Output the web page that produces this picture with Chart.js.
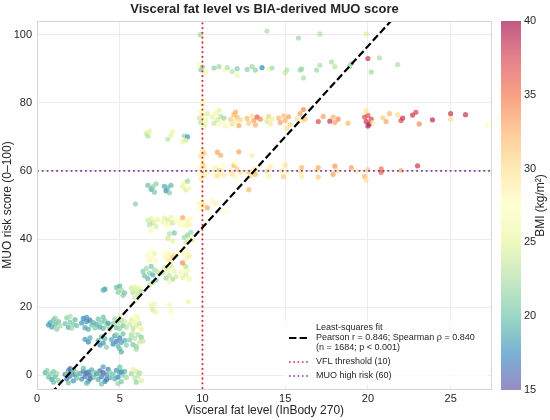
<!DOCTYPE html>
<html>
<head>
<meta charset="utf-8">
<script src="https://cdn.jsdelivr.net/npm/chart.js@4.4.1/dist/chart.umd.min.js"></script>
<style>
html, body { margin: 0; padding: 0; background: #fff; }
</style>
</head>
<body>
<canvas id="chart" width="550" height="420"></canvas>
<script>
// Points: [visceral fat level, MUO score, BMI]
const ROW_0 = [
  [0.5,0.8,19],[0.7,-0.5,20],[0.8,0.4,21],[0.9,-1.2,18.5],[1.0,1.1,20.5],[1.1,-0.3,19.5],[1.2,0.6,22],[1.3,-1.5,21],[1.0,-2.0,20],[0.6,1.5,21.5],
  [1.7,0.3,17],[1.8,-1.0,16],[1.9,1.4,18],[2.0,-0.2,17.5],[2.1,0.9,19],[2.2,-1.6,18],[2.3,0.2,16.5],[2.4,-0.8,20],[2.0,2.0,15.8],[1.8,0.5,21],[2.2,1.7,19.5],[2.4,0.8,22],[1.9,-2.2,20],
  [2.6,0.5,19],[2.7,-1.1,18],[2.8,1.2,17],[2.9,-0.3,16.5],[3.0,0.7,15.5],[3.1,-1.7,18.5],[3.2,0.1,17],[3.3,1.6,19],[3.4,-0.6,20],[3.5,0.9,21],[3.0,-2.3,19.5],[2.8,2.1,20],[3.2,-1.0,16],[3.1,1.0,18],
  [3.6,0.4,18],[3.7,-1.2,19],[3.8,1.3,16],[3.9,-0.4,17],[4.0,0.8,15.5],[4.1,-1.8,17.5],[4.2,0.2,18],[4.3,1.8,17],[4.4,-0.7,19],[4.0,2.5,18.5],[3.9,-2.5,20],[4.2,-1.2,16.5],[4.4,0.9,21],[3.7,0.6,20],
  [4.6,0.3,20],[4.7,-1.0,19],[4.8,1.5,18],[4.9,-0.5,17.5],[5.0,0.8,19],[5.1,-1.8,20.5],[5.2,0.1,21],[5.3,1.2,19.5],[5.4,-0.6,22],[5.0,2.4,20],[4.9,-2.4,21.5],[5.1,1.0,18],
  [5.7,0.5,22],[5.9,-0.8,23],[6.0,1.2,24],[6.1,-0.2,23.5],[6.2,0.7,22.5],[6.3,-1.5,24.5],[5.8,1.8,25],[6.0,-2.0,21.5]
];
const ROW_10 = [
  [2.9,10.6,18],[3.1,9.8,17],[3.2,11.0,19],
  [3.7,10.2,19],[3.8,8.9,17.5],[3.9,11.3,20],[4.0,9.5,18],[4.1,10.8,19.5],[4.2,8.3,21],
  [4.5,10.5,19],[4.6,9.2,17.5],[4.7,11.6,18],[4.8,10.0,16.5],[4.9,8.6,19.5],[5.0,11.0,17],[5.1,9.7,18.5],[5.2,12.2,20],[5.3,10.3,19],[5.4,8.9,21],[5.0,7.8,20],[4.8,12.0,21.5],[5.1,6.9,19],
  [5.6,10.4,21],[5.7,11.8,22],[5.8,9.0,20.5],[5.9,10.9,23],[6.0,8.5,21.5],[6.1,12.0,22.5],[6.2,9.8,24],[6.3,11.2,21],[6.4,10.1,23.5],[6.0,7.7,22],[5.8,12.6,24]
];
const ROW_15 = [
  [0.8,15.5,19],[0.9,14.2,18.5],[1.0,16.3,20],[1.1,15.0,19.5],[1.2,13.6,21],[1.3,15.8,20],[1.4,14.5,22],[0.7,14.8,18],[1.1,16.8,21.5],
  [1.7,15.2,20],[1.8,16.9,21],[1.9,14.1,19],[2.0,15.6,20.5],[2.1,13.8,22],[2.2,15.0,21],[2.3,16.4,19.5],[2.4,14.6,20],[2.0,17.3,22.5],
  [2.7,15.4,18],[2.8,16.7,17],[2.9,14.0,18.5],[3.0,15.8,17.5],[3.1,13.5,19],[3.2,16.2,16.5],[3.3,14.8,20],[3.4,15.5,19.5],[3.5,13.9,21],[3.0,17.0,18],
  [3.6,15.0,19],[3.7,16.5,20],[3.8,14.2,18.5],[3.9,15.6,21],[4.0,13.8,19.5],[4.1,16.0,20.5],[4.2,14.7,22],[4.3,15.3,18],[4.4,13.6,21.5],[4.0,17.1,20],
  [4.6,15.2,21],[4.7,16.6,22],[4.8,14.0,20],[4.9,15.5,23],[5.0,13.7,21.5],[5.1,16.2,22.5],[5.2,14.6,20.5],[5.3,15.8,24],[5.4,14.1,23],[5.0,17.2,24.5],
  [5.6,15.0,24],[5.7,16.4,25],[5.8,13.9,23],[5.9,15.7,25.5],[6.0,14.5,24.5],[6.1,16.8,26],[6.2,15.2,23.5],[6.3,13.6,25],[6.0,17.5,26.5]
];
const ROW_20_25 = [
  [4.1,25.3,18],[4.0,25.0,19.5],
  [4.8,25.8,20],[4.9,24.4,21],[5.0,26.2,19.5],[5.1,25.0,22],[5.3,24.2,20.5],[5.2,23.5,21],
  [5.7,25.6,24],[5.8,24.3,23],[5.9,26.0,25],[6.0,25.1,24.5],[6.1,23.8,23.5],[6.2,25.7,25.5],[6.3,24.6,22.5],[5.9,22.8,24],
  [6.9,20.5,25],[7.0,19.2,24],[7.1,21.0,26],[7.2,18.6,25.5],[8.0,20.8,26.5],[8.1,18.9,27],[9.15,21.6,25.5]
];
const ROW_30_35 = [
  [6.4,30.5,21],[6.5,29.2,20],[6.6,31.4,22],[6.7,28.4,19.5],[6.8,30.0,21.5],[6.9,32.0,20.5],[7.0,29.5,19],[7.1,31.0,22.5],[7.2,28.0,21],[7.3,30.4,23],[7.0,27.3,22],[6.8,26.5,23.5],[7.4,29.8,24],
  [7.6,30.2,23],[7.7,31.6,24],[7.8,28.6,22],[7.9,30.8,25],[8.0,29.3,23.5],[8.1,32.0,24.5],[8.2,28.2,22.5],[8.3,30.5,25.5],[8.4,29.0,24],[8.0,27.5,26],
  [8.7,30.3,26],[8.8,28.7,25],[8.9,31.2,27],[9.0,29.6,24.5],[9.1,30.8,26.5],[9.2,28.3,25.5],[9.0,32.0,23],
  [6.7,35.3,27],[6.8,33.8,26.5],[6.9,36.5,27.5],[7.0,34.5,28],[7.1,35.8,26],[7.2,33.5,27],
  [7.7,35.0,28],[7.8,36.4,27.5],[7.9,34.0,29],[8.0,35.6,28.5],[8.1,33.6,30],[8.3,35.2,29.5],[8.5,36.0,27],[8.2,34.6,31],
  [8.8,33.0,34],[8.9,35.8,28],[9.0,34.2,28.5],[9.1,36.2,27.5],[9.2,35.0,29]
];
const ROW_40_55 = [
  [7.9,40.2,24],[8.0,41.5,23],[8.2,39.4,25],[8.3,41.8,20.5],
  [8.9,40.5,22],[9.0,39.0,23.5],[9.1,41.2,21.5],[9.2,40.0,24.5],[9.3,42.0,22],[9.4,39.6,25],
  [6.7,45.5,24],[6.8,44.2,23],[6.9,46.0,25],[7.0,44.8,22.5],[7.1,45.2,26],[7.2,43.7,24.5],[7.3,45.8,25.5],[6.9,42.5,26.5],
  [7.6,45.0,26],[7.7,46.2,25],[7.8,44.0,27],[7.9,45.6,24],[8.0,44.5,26.5],[8.1,46.4,25.5],[8.2,44.8,23.5],[8.4,45.3,27.5],
  [8.6,45.6,27],[8.7,44.0,28],[8.8,46.3,33],[8.9,45.0,27.5],[9.0,43.8,26.5],[9.1,45.4,28.5],[9.2,44.3,26],[9.3,46.0,27.5],
  [9.8,50.5,27],[9.9,49.0,28],[10.0,51.0,26.5],[10.1,50.0,29],[10.3,49.2,33],[10.6,51.3,27],[10.8,50.5,28.5],[11.3,48.0,27.5],[5.95,50.3,21],
  [6.7,55.8,20],[6.9,54.6,19],[7.0,55.3,21],[7.1,53.8,20.5],[7.2,56.2,21.5],
  [7.7,55.5,19],[7.8,54.2,17.5],[7.9,55.0,20],[8.0,53.6,21],[8.1,55.8,19.5],
  [8.8,55.4,25],[8.9,56.5,26],[9.0,54.4,24.5],[9.1,57.0,22],[9.2,55.0,26.5],[12.8,54.5,32]
];
const ROW_60_70 = [
  [9.8,60.5,27],[9.9,59.2,28],[10.0,61.2,26.5],[10.1,58.6,29],[10.2,60.0,27.5],[10.0,62.0,28.5],[9.9,57.8,26],[10.1,61.5,30],[10.3,59.5,27],
  [10.6,60.4,27],[10.7,59.0,28],[10.8,61.0,26.5],[10.9,58.5,30],[11.0,60.2,31],[11.1,59.5,28.5],[11.2,61.4,27.5],[11.3,58.8,29],
  [11.7,60.0,29],[11.8,59.0,30],[11.9,61.6,32],[12.0,58.2,28],[12.1,60.5,31],[12.3,59.6,29.5],[12.0,62.5,27.5],
  [12.8,59.7,31],[12.9,58.5,30],[13.1,60.6,29],[13.2,59.0,32],[13.3,61.0,28],
  [13.9,60.0,30],[14.0,58.4,28.5],[14.1,61.2,29],
  [14.8,60.2,29],[14.9,58.3,31],[15.1,59.5,28],[15.0,61.7,30],
  [15.9,59.8,30],[16.0,58.4,29],[16.0,61.0,32],
  [16.9,60.3,29],[17.0,58.2,31],[17.0,61.0,32.5],
  [17.9,59.0,33],[18.0,61.4,33.5],[18.1,60.0,30],
  [19.0,61.0,33],[19.3,60.0,29],[19.8,58.4,32],[19.9,57.2,30],[20.0,60.4,31],
  [20.8,59.6,36],[20.8,60.6,35],[22.0,60.2,32.5],[23.0,61.5,38],
  [9.9,64.5,30],[10.0,66.0,29],[10.1,65.2,31],[10.0,63.3,28.5],[10.9,65.5,33],[11.1,64.6,32.5],[12.2,65.6,33],[13.0,64.5,29],
  [6.6,71.0,24],[6.7,70.2,23],[6.8,71.6,25],[7.9,69.3,23],[8.1,70.5,25],[8.2,71.6,26],[8.8,68.5,25.5],[8.9,70.3,22],[9.1,70.0,18],[9.0,69.0,24]
];
const ROW_75_80 = [
  [9.8,75.5,24],[9.9,74.2,23],[10.0,76.4,25],[10.1,73.5,22.5],[10.2,75.0,26],[10.3,76.8,24.5],[10.0,73.0,27],[9.9,77.5,26.5],[10.2,74.0,28],
  [10.6,75.8,25],[10.7,74.0,23.5],[10.8,76.9,26],[10.9,75.0,24],[11.0,73.6,27],[11.1,76.0,23],[11.2,74.6,28],[11.3,75.5,22],[11.4,73.2,26.5],[11.0,77.8,25],
  [11.7,75.2,31],[11.8,73.8,30],[11.9,76.5,32],[12.0,74.6,29],[12.1,75.8,31.5],[12.2,73.3,33],[12.3,75.0,30.5],[12.0,77.3,32.5],
  [12.7,75.4,32],[12.8,74.0,31],[13.0,76.2,30],[13.1,74.8,33],[13.2,73.5,32.5],[13.3,75.8,36.5],[13.5,75.2,34],
  [13.8,75.6,27],[13.9,74.5,24],[14.0,76.0,31],[14.1,73.8,29.5],[14.2,75.2,25],
  [14.6,75.5,32],[14.7,74.2,33],[14.9,76.2,31.5],[15.0,74.8,32.5],[15.2,75.9,33],[15.3,73.6,31],[15.1,72.5,30],
  [15.7,75.3,30],[15.9,76.8,33],[16.0,74.6,29],[16.2,75.2,31.5],[16.1,78.0,34],
  [17.0,74.5,37],[17.3,76.0,33],[17.7,74.6,38],[17.9,75.8,32.5],[18.0,74.2,33],[18.2,75.2,34],[18.8,74.0,32],
  [19.8,75.8,37],[19.9,74.5,38],[20.0,76.3,36.5],[20.1,73.8,38.5],[20.2,75.2,37.5],[19.9,77.6,30],[20.3,74.2,29],[20.0,73.2,39],
  [20.9,75.6,31],[21.1,74.5,33],[21.3,76.8,32],
  [21.8,76.5,30],[22.0,74.8,37],[22.1,75.5,38],
  [22.7,76.4,38],[22.9,77.2,37.5],[23.1,73.8,34],
  [23.9,75.0,38.5],[25.0,76.8,38],[25.0,75.2,30],[25.9,76.5,38],[27.2,73.5,27.5],
  [10.0,79.6,26],[10.1,80.8,27.5]
];
const ROW_90_100 = [
  [9.75,91.2,27],[9.9,89.7,21],[10.0,90.5,22],[10.2,88.9,26],
  [10.7,90.2,21.5],[11.0,90.6,22],[11.3,89.5,27],[11.5,90.3,22.5],[11.8,89.2,23],[12.1,90.0,21],[12.1,88.0,26],
  [12.7,89.8,21.5],[13.0,90.6,22],[13.2,89.6,21.5],[13.6,90.3,17.5],[14.0,89.8,27],[14.2,90.2,22],
  [15.1,89.7,23],[15.0,88.8,23.5],[15.9,89.6,22],[16.0,89.9,21.5],[16.1,87.3,22.5],[16.9,89.6,22],[17.1,91.0,22.5],
  [17.8,92.0,22.5],[18.0,90.6,23],[18.9,90.8,21.5],[19.0,91.5,22],[20.0,93.0,38],[20.2,89.0,22],[20.7,93.2,22.5],[21.8,91.2,22.5],
  [9.87,100.0,22],[13.9,101.0,22.5],[15.8,99.0,22],[17.1,100.2,22.5],[19.9,100.2,24.5]
];

const FIT_SLOPE = 5.32;
const FIT_INTERCEPT = -9.8;
const VFL_THRESHOLD = 10;
const MUO_HIGH = 60;
const X_TICKS = [0, 5, 10, 15, 20, 25];
const Y_TICKS = [0, 20, 40, 60, 80, 100];
const BMI_TICKS = [15, 20, 25, 30, 35, 40];
const BMI_MIN = 15, BMI_MAX = 40;

const FONT = '"Liberation Sans", Arial, sans-serif';
const TEXT = '#262626';

// Spectral_r
const CMAP = ['#5e4fa2','#3288bd','#66c2a5','#abdda4','#e6f598','#ffffbf','#fee08b','#fdae61','#f46d43','#d53e4f','#9e0142'];
function hexRgb(h) { return [1, 3, 5].map(i => parseInt(h.substr(i, 2), 16)); }
function bmiColor(bmi, alpha) {
  let t = (bmi - BMI_MIN) / (BMI_MAX - BMI_MIN);
  t = Math.max(0, Math.min(1, t));
  const p = t * (CMAP.length - 1);
  const i = Math.min(Math.floor(p), CMAP.length - 2);
  const f = p - i;
  const a = hexRgb(CMAP[i]), b = hexRgb(CMAP[i + 1]);
  const c = a.map((v, k) => Math.round(v + (b[k] - v) * f));
  return `rgba(${c[0]},${c[1]},${c[2]},${alpha})`;
}

const allPoints = [].concat(ROW_0, ROW_10, ROW_15, ROW_20_25, ROW_30_35, ROW_40_55, ROW_60_70, ROW_75_80, ROW_90_100);

// Titre, cadre, barre de couleur et légende
const decorPlugin = {
  id: 'decor',
  afterDraw(chart) {
    const { ctx, chartArea: a } = chart;
    ctx.save();
    // cadre
    ctx.strokeStyle = '#d6d6d6';
    ctx.lineWidth = 1;
    ctx.strokeRect(a.left + 0.5, a.top + 0.5, a.right - a.left - 1, a.bottom - a.top);

    // titre
    ctx.fillStyle = TEXT;
    ctx.font = 'bold 13px ' + FONT;
    ctx.textAlign = 'center';
    ctx.textBaseline = 'middle';
    ctx.fillText('Visceral fat level vs BIA-derived MUO score', (a.left + a.right) / 2, 9);

    // barre de couleur
    const cbL = a.right + 9, cbW = 20, cbT = a.top, cbB = a.bottom + 1;
    const grad = ctx.createLinearGradient(0, cbB, 0, cbT);
    for (let i = 0; i <= 50; i++) {
      grad.addColorStop(i / 50, bmiColor(BMI_MIN + (BMI_MAX - BMI_MIN) * i / 50, 0.65));
    }
    ctx.fillStyle = grad;
    ctx.fillRect(cbL, cbT, cbW, cbB - cbT);
    ctx.fillStyle = TEXT;
    ctx.font = '11px ' + FONT;
    ctx.textAlign = 'left';
    BMI_TICKS.forEach(v => {
      const y = cbB - (v - BMI_MIN) / (BMI_MAX - BMI_MIN) * (cbB - cbT);
      ctx.fillText(String(v), cbL + cbW + 3, y);
    });
    ctx.save();
    ctx.translate(541, (cbT + cbB) / 2);
    ctx.rotate(-Math.PI / 2);
    ctx.textAlign = 'center';
    ctx.font = '12px ' + FONT;
    ctx.fillText('BMI (kg/m²)', 0, 0);
    ctx.restore();

    // légende
    const lx = a.right - 208, ly = a.bottom - 68;
    ctx.fillStyle = 'rgba(255,255,255,0.8)';
    ctx.fillRect(lx, ly, 204, 64);
    ctx.font = '9px ' + FONT;
    ctx.fillStyle = TEXT;
    const hx = lx + 5, tx = lx + 32;
    ctx.setLineDash([7.4, 3.2]);
    ctx.lineWidth = 2;
    ctx.strokeStyle = '#000';
    ctx.beginPath(); ctx.moveTo(hx, ly + 17); ctx.lineTo(hx + 20, ly + 17); ctx.stroke();
    ctx.fillText('Least-squares fit', tx, ly + 7);
    ctx.fillText('Pearson r = 0.846; Spearman \u03c1 = 0.840', tx, ly + 17);
    ctx.fillText('(n = 1684; p < 0.001)', tx, ly + 27);
    ctx.setLineDash([1.6, 2.7]);
    ctx.lineWidth = 1.6;
    ctx.strokeStyle = '#d62728';
    ctx.beginPath(); ctx.moveTo(hx, ly + 41); ctx.lineTo(hx + 20, ly + 41); ctx.stroke();
    ctx.fillText('VFL threshold (10)', tx, ly + 41);
    ctx.strokeStyle = '#7b3f9e';
    ctx.beginPath(); ctx.moveTo(hx, ly + 55); ctx.lineTo(hx + 20, ly + 55); ctx.stroke();
    ctx.fillText('MUO high risk (60)', tx, ly + 55);
    ctx.restore();
  }
};

const X_MIN = 0, X_MAX = 27.5, Y_MIN = -4, Y_MAX = 104;

new Chart(document.getElementById('chart'), {
  type: 'scatter',
  data: {
    datasets: [
      {
        type: 'line',
        label: 'Least-squares fit',
        data: [X_MIN, X_MAX].map(x => ({ x, y: FIT_SLOPE * x + FIT_INTERCEPT })),
        borderColor: '#000',
        borderWidth: 2.2,
        borderDash: [7.4, 3.2],
        pointRadius: 0,
        order: 1
      },
      {
        type: 'line',
        label: 'VFL threshold (10)',
        data: [{ x: VFL_THRESHOLD, y: Y_MIN }, { x: VFL_THRESHOLD, y: Y_MAX }],
        borderColor: '#d62728',
        borderWidth: 1.8,
        borderDash: [1.8, 3],
        pointRadius: 0,
        order: 2
      },
      {
        type: 'line',
        label: 'MUO high risk (60)',
        data: [{ x: X_MIN, y: MUO_HIGH }, { x: X_MAX, y: MUO_HIGH }],
        borderColor: '#7b3f9e',
        borderWidth: 1.8,
        borderDash: [1.8, 3],
        pointRadius: 0,
        order: 3
      },
      {
        label: 'Participants',
        data: allPoints.map(p => ({ x: p[0], y: p[1] })),
        pointBackgroundColor: allPoints.map(p => bmiColor(p[2], 0.7)),
        pointBorderWidth: 0,
        pointRadius: 2.6,
        order: 4
      }
    ]
  },
  plugins: [decorPlugin],
  options: {
    responsive: false,
    animation: false,
    layout: { padding: { top: 21, right: 58, left: 0, bottom: 0 } },
    plugins: { legend: { display: false }, tooltip: { enabled: false } },
    scales: {
      x: {
        type: 'linear',
        min: X_MIN, max: X_MAX,
        afterFit(s) { s.height = 31; },
        afterBuildTicks(s) { s.ticks = X_TICKS.map(v => ({ value: v })); },
        ticks: { padding: 3, color: TEXT, font: { family: FONT, size: 11 } },
        grid: { color: '#ececec', drawTicks: false },
        border: { display: false },
        title: { display: true, text: 'Visceral fat level (InBody 270)', color: TEXT, font: { family: FONT, size: 12 }, padding: { top: 0, bottom: 2 } }
      },
      y: {
        type: 'linear',
        min: Y_MIN, max: Y_MAX,
        afterFit(s) { s.width = 37; },
        afterBuildTicks(s) { s.ticks = Y_TICKS.map(v => ({ value: v })); },
        ticks: { padding: 5, color: TEXT, font: { family: FONT, size: 11 } },
        grid: { color: '#ececec', drawTicks: false },
        border: { display: false },
        title: { display: true, text: 'MUO risk score (0–100)', color: TEXT, font: { family: FONT, size: 12 }, padding: { top: 0, bottom: 1 } }
      }
    }
  }
});
</script>
</body>
</html>
